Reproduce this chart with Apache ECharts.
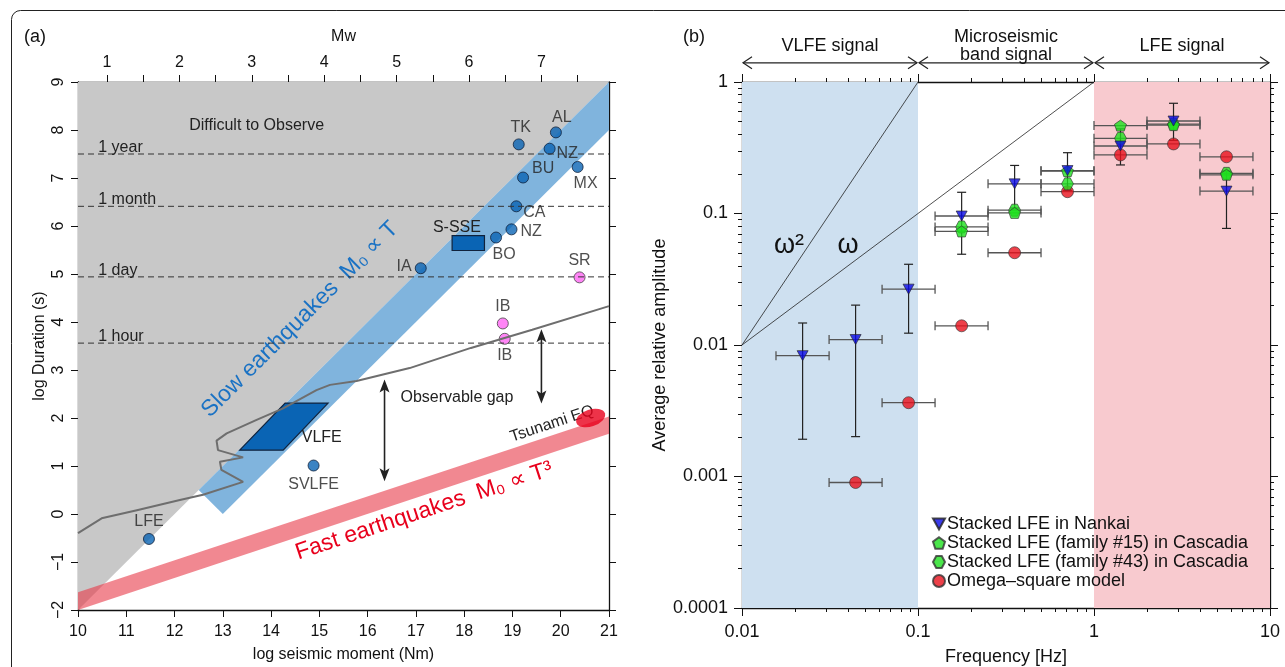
<!DOCTYPE html>
<html>
<head>
<meta charset="utf-8">
<script src="https://cdn.jsdelivr.net/npm/echarts@6/dist/echarts.min.js"></script>
<style>
  html, body { margin: 0; padding: 0; background: #fff; }
  #chart { width: 1285px; height: 667px; }
</style>
</head>
<body>
<div id="chart"></div>
<script>
// ---------- panel (a): scaling of slow / fast earthquakes ----------
const eventNames = ['TK', 'AL', 'NZ', 'BU', 'MX', 'CA', 'NZ', 'BO', 'IA', 'LFE', 'SVLFE'];
const eventMoment = [19.13, 19.90, 19.77, 19.22, 20.35, 19.08, 18.98, 18.66, 17.10, 11.47, 14.88];
const eventDuration = [7.70, 7.95, 7.61, 7.01, 7.23, 6.41, 5.93, 5.76, 5.12, -0.52, 1.01];

const pinkNames = ['SR', 'IB', 'IB'];
const pinkMoment = [20.39, 18.80, 18.84];
const pinkDuration = [4.93, 3.97, 3.65];

// observation limit curve (gray line)
const limitMoment = [10, 10.49, 11.22, 12.11, 12.59, 13.42, 12.97, 12.94, 13.42, 12.90, 12.87, 13.08, 13.70, 14.25, 14.94, 15.22, 15.77, 16.87, 18.14, 19.41, 21];
const limitDuration = [-0.40, -0.09, 0.08, 0.29, 0.40, 0.67, 0.92, 1.09, 1.18, 1.33, 1.53, 1.68, 1.96, 2.20, 2.58, 2.69, 2.77, 3.04, 3.46, 3.84, 4.33];

const timeNames = ['1 year', '1 month', '1 day', '1 hour'];
const timeLog = [7.50, 6.41, 4.94, 3.56];

const grayArea = [[10, 9], [21, 9], [10, -2]];
const slowBand = [[21, 9], [21, 8], [13, 0], [12.5, 0.5]];
const fastBand = [[10, -2], [21, 1.67], [21, 2.03], [10, -1.63]];
const vlfeBox = [[13.35, 1.33], [14.25, 1.33], [15.18, 2.31], [14.29, 2.31]];
const ssseBox = [[17.75, 5.49], [18.42, 5.49], [18.42, 5.80], [17.75, 5.80]];
const tsunami = [20.62, 2.0];

const gapArrowX = [16.35, 19.6];
const gapArrowFrom = [0.68, 2.3];
const gapArrowTo = [2.8, 3.85];

const noteText = ['Difficult to Observe', 'Observable gap', 'VLFE', 'S-SSE'];
const noteX = [13.7, 17.85, 15.05, 17.85];
const noteY = [8.1, 2.42, 1.6, 5.97];

const bandText = ['Slow earthquakes  M\u2080 \u221D T', 'Fast earthquakes  M\u2080 \u221D T\u00B3', 'Tsunami EQ'];
const bandTextX = [14.6, 17.17, 19.82];
const bandTextY = [4.05, 0.06, 1.88];

const mwTicks = [1, 1.5, 2, 2.5, 3, 3.5, 4, 4.5, 5, 5.5, 6, 6.5, 7, 7.5];
const mwLabels = [1, 2, 3, 4, 5, 6, 7];

// ---------- panel (b): average relative amplitude ----------
const freqCenter = [0.0221, 0.0442, 0.0884, 0.177, 0.354, 0.707, 1.414, 2.83, 5.66];
const freqLow = [0.0156, 0.03125, 0.0625, 0.125, 0.25, 0.5, 1, 2, 4];
const freqHigh = [0.03125, 0.0625, 0.125, 0.25, 0.5, 1, 2, 4, 8];
const nankaiAmp = [0.0083, 0.011, 0.0266, 0.0957, 0.168, 0.212, 0.326, 0.505, 0.148];
const nankaiLow = [0.00192, 0.00201, 0.0123, 0.049, 0.11, 0.15, 0.234, 0.36, 0.077];
const nankaiHigh = [0.0147, 0.0201, 0.0411, 0.145, 0.232, 0.29, 0.44, 0.689, 0.21];
const fam15Amp = [null, null, null, 0.073, 0.101, 0.21, 0.466, 0.47, 0.197];
const fam43Amp = [null, null, null, 0.079, 0.106, 0.168, 0.373, 0.478, 0.202];
const omegaAmp = [null, 0.0009, 0.00364, 0.014, 0.0503, 0.1465, 0.279, 0.338, 0.270];

const signalNames = ['VLFE signal', 'Microseismic\nband signal', 'LFE signal'];
const signalFrom = [0.01, 0.1, 1];
const signalTo = [0.1, 1, 10];

const FONT = '"Liberation Sans", Arial, Helvetica, sans-serif';
const chart = echarts.init(document.getElementById('chart'));

function polygonSeries(points, style) {
  return {
    type: 'custom', xAxisIndex: 0, yAxisIndex: 0, silent: true,
    data: [points[0]],
    renderItem: function (params, api) {
      return { type: 'polygon', shape: { points: points.map(function (p) { return api.coord(p); }) }, style: style };
    }
  };
}

const labelPos = {
  0: { position: 'top', offset: [2, 0] },
  1: { position: 'top', offset: [6, 2] },
  2: { position: 'right', offset: [-2, 5] },
  3: { position: 'right', offset: [0, -9] },
  4: { position: 'bottom', offset: [8, 0] },
  5: { position: 'right', offset: [-2, 6] },
  6: { position: 'right', offset: [0, 2] },
  7: { position: 'bottom', offset: [8, 0] },
  8: { position: 'left', offset: [0, -2] },
  9: { position: 'top', offset: [0, 0] },
  10: { position: 'bottom', offset: [0, 2] }
};
const pinkPos = [{ position: 'top', offset: [0, 0] }, { position: 'top', offset: [0, 0] }, { position: 'bottom', offset: [0, 0] }];

const eventData = eventNames.map(function (n, i) {
  return { name: n, value: [eventMoment[i], eventDuration[i]], label: labelPos[i] };
});
const pinkData = pinkNames.map(function (n, i) {
  return { name: n, value: [pinkMoment[i], pinkDuration[i]], label: pinkPos[i] };
});

const timeSeries = timeLog.map(function (t) {
  return {
    type: 'line', xAxisIndex: 0, yAxisIndex: 0, symbol: 'none', silent: true,
    data: [[10, t], [21, t]],
    lineStyle: { color: '#333', width: 1, type: [6, 4] }
  };
});

// minor tick positions for the log axes
const xMinor = [];
[0.01, 0.1, 1].forEach(function (d) { for (let k = 2; k <= 9; k++) xMinor.push(+(d * k).toPrecision(3)); });
const yMinor = [];
[0.0001, 0.001, 0.01, 0.1].forEach(function (d) { for (let k = 2; k <= 9; k++) yMinor.push(+(d * k).toPrecision(3)); });

function markerRows(arr) {
  const out = [];
  arr.forEach(function (v, i) { if (v != null) out.push([freqCenter[i], v]); });
  return out;
}
const xErrRows = [];
[nankaiAmp, fam15Amp, fam43Amp, omegaAmp].forEach(function (arr) {
  arr.forEach(function (v, i) { if (v != null) xErrRows.push([freqCenter[i], v, freqLow[i], freqHigh[i]]); });
});
const yErrRows = nankaiAmp.map(function (v, i) { return [freqCenter[i], v, nankaiLow[i], nankaiHigh[i]]; });

const triDown = 'path://M0,0 L10,0 L5,9 Z';
const pentagon = 'path://M50,0 L97.6,34.5 L79.4,90.5 L20.6,90.5 L2.4,34.5 Z';
const hexagon = 'path://M27,0 L73,0 L100,50 L73,100 L27,100 L0,50 Z';

const axisLineBlack = { show: true, onZero: false, lineStyle: { color: '#111', width: 1.3 } };
const labelA = { color: '#111', fontSize: 16, fontFamily: FONT };
const labelB = { color: '#111', fontSize: 18, fontFamily: FONT };

function logAxis(grid, pos, isMinor, isY, showLabel, extra) {
  const ax = {
    type: 'log', logBase: 10, gridIndex: grid, position: pos,
    min: isY ? 0.0001 : 0.01, max: isY ? 1 : 10,
    axisLine: isMinor ? { show: false, onZero: false } : axisLineBlack,
    splitLine: { show: false },
    axisTick: { show: true, length: isMinor ? 4 : 8, lineStyle: { color: '#111', width: 1 } },
    axisLabel: { show: showLabel, ...labelB, margin: isY ? 14 : 15 }
  };
  if (isMinor) ax.axisTick.customValues = isY ? yMinor : xMinor;
  return Object.assign(ax, extra || {});
}

const option = {
  animation: false,
  backgroundColor: '#fff',
  textStyle: { fontFamily: FONT },
  grid: [
    { left: 78, top: 82, width: 531, height: 528, outerBoundsMode: 'none' },
    { left: 742, top: 82, width: 528, height: 526, outerBoundsMode: 'none' },
    { left: 742, top: 20, width: 528, height: 62, outerBoundsMode: 'none' }
  ],
  graphic: [
    { type: 'rect', shape: { x: 11.5, y: 10.5, width: 1400, height: 800, r: 9 }, style: { fill: 'none', stroke: '#222', lineWidth: 1 }, z: -10, silent: true },
    { type: 'text', left: 24, top: 28, style: { text: '(a)', font: '18px ' + FONT, fill: '#111' } },
    { type: 'text', left: 683, top: 28, style: { text: '(b)', font: '18px ' + FONT, fill: '#111' } }
  ],
  legend: {
    left: 927, top: 510, orient: 'vertical', itemGap: 1, itemWidth: 12, itemHeight: 12,
    selectedMode: false,
    textStyle: { color: '#111', fontSize: 18, fontFamily: FONT, padding: [0, 0, 0, -3] },
    data: ['Stacked LFE in Nankai', 'Stacked LFE (family #15) in Cascadia', 'Stacked LFE (family #43) in Cascadia', 'Omega\u2013square model']
  },
  xAxis: [
    { type: 'value', gridIndex: 0, position: 'bottom', min: 10, max: 21, interval: 1,
      name: 'log seismic moment (Nm)', nameLocation: 'middle', nameGap: 37,
      nameTextStyle: { ...labelA },
      axisLine: axisLineBlack, splitLine: { show: false },
      axisTick: { length: 7, lineStyle: { color: '#111' } }, axisLabel: { ...labelA, margin: 14 } },
    { type: 'value', gridIndex: 0, position: 'top', min: 10, max: 21,
      name: 'Mw', nameLocation: 'middle', nameGap: 37, nameTextStyle: { ...labelA },
      axisLine: axisLineBlack, splitLine: { show: false },
      axisTick: { length: 7, lineStyle: { color: '#111' }, customValues: mwTicks.map(function (m) { return 1.5 * m + 9.1; }) },
      axisLabel: { ...labelA, margin: 11, customValues: mwLabels.map(function (m) { return 1.5 * m + 9.1; }),
        formatter: function (v) { return String(Math.round((v - 9.1) / 1.5)); } } },
    logAxis(1, 'bottom', false, false, true, { name: 'Frequency [Hz]', nameLocation: 'middle', nameGap: 40, nameTextStyle: { ...labelB } }),
    logAxis(1, 'bottom', true, false, false),
    logAxis(1, 'top', false, false, false),
    logAxis(1, 'top', true, false, false),
    { type: 'log', gridIndex: 2, min: 0.01, max: 10, show: false }
  ],
  yAxis: [
    { type: 'value', gridIndex: 0, position: 'left', min: -2, max: 9, interval: 1,
      name: 'log Duration (s)', nameLocation: 'middle', nameGap: 30, nameTextStyle: { ...labelA },
      axisLine: axisLineBlack, splitLine: { show: false },
      axisTick: { length: 7, lineStyle: { color: '#111' } },
      axisLabel: { ...labelA, rotate: 90, margin: 11, formatter: function (v) { return String(v).replace('-', '\u2212'); } } },
    { type: 'value', gridIndex: 0, position: 'right', min: -2, max: 9, interval: 1,
      axisLine: axisLineBlack, splitLine: { show: false },
      axisTick: { length: 7, lineStyle: { color: '#111' } }, axisLabel: { show: false } },
    logAxis(1, 'left', false, true, true, { name: 'Average relative amplitude', nameLocation: 'middle', nameGap: 73, nameTextStyle: { ...labelB } }),
    logAxis(1, 'left', true, true, false),
    logAxis(1, 'right', false, true, false),
    logAxis(1, 'right', true, true, false),
    { type: 'value', gridIndex: 2, min: 0, max: 1, show: false }
  ],
  series: [
    // ----- panel (a) -----
    polygonSeries(grayArea, { fill: '#c8c8c8' }),
    polygonSeries(slowBand, { fill: '#80b4dd' }),
    polygonSeries(fastBand, { fill: 'rgba(232,56,72,0.6)' }),
    ...timeSeries,
    {
      type: 'custom', xAxisIndex: 0, yAxisIndex: 0, silent: true,
      data: timeLog.map(function (t, i) { return [10.42, t, i]; }),
      renderItem: function (params, api) {
        const p = api.coord([api.value(0), api.value(1) + 0.13]);
        return { type: 'text', x: p[0], y: p[1], style: { text: timeNames[api.value(2)], fill: '#222', font: '16px ' + FONT, align: 'left', verticalAlign: 'middle' } };
      }
    },
    {
      type: 'line', xAxisIndex: 0, yAxisIndex: 0, symbol: 'none', silent: true,
      data: limitMoment.map(function (m, i) { return [m, limitDuration[i]]; }),
      lineStyle: { color: '#6e6e6e', width: 2 }
    },
    polygonSeries(vlfeBox, { fill: '#0a64b4', stroke: '#10223c', lineWidth: 1.2 }),
    polygonSeries(ssseBox, { fill: '#0a64b4', stroke: '#10223c', lineWidth: 1.2 }),
    {
      type: 'scatter', xAxisIndex: 0, yAxisIndex: 0, silent: true,
      data: [tsunami], symbol: 'circle', symbolSize: [30, 17], symbolRotate: 18,
      itemStyle: { color: '#e8001c' }
    },
    {
      type: 'custom', xAxisIndex: 0, yAxisIndex: 0, silent: true,
      data: gapArrowX.map(function (x, i) { return [x, gapArrowFrom[i], gapArrowTo[i]]; }),
      renderItem: function (params, api) {
        const a = api.coord([api.value(0), api.value(1)]);
        const b = api.coord([api.value(0), api.value(2)]);
        const hw = 5, hl = 13;
        return { type: 'group', children: [
          { type: 'line', shape: { x1: a[0], y1: a[1] - 4, x2: b[0], y2: b[1] + 4 }, style: { stroke: '#222', lineWidth: 1.6 } },
          { type: 'polygon', shape: { points: [[a[0], a[1]], [a[0] - hw, a[1] - hl], [a[0], a[1] - hl + 3], [a[0] + hw, a[1] - hl]] }, style: { fill: '#222' } },
          { type: 'polygon', shape: { points: [[b[0], b[1]], [b[0] - hw, b[1] + hl], [b[0], b[1] + hl - 3], [b[0] + hw, b[1] + hl]] }, style: { fill: '#222' } }
        ] };
      }
    },
    {
      type: 'scatter', xAxisIndex: 0, yAxisIndex: 0, silent: true,
      data: eventData, symbolSize: 11,
      itemStyle: { color: '#0a64b4', borderColor: '#10223c', borderWidth: 1 },
      label: { show: true, formatter: '{b}', color: '#222', fontSize: 16, fontFamily: FONT, distance: 3 }
    },
    {
      type: 'scatter', xAxisIndex: 0, yAxisIndex: 0, silent: true,
      data: pinkData, symbolSize: 11,
      itemStyle: { color: '#ff66f4', borderColor: '#444', borderWidth: 1 },
      label: { show: true, formatter: '{b}', color: '#222', fontSize: 16, fontFamily: FONT, distance: 3 }
    },
    {
      type: 'custom', xAxisIndex: 0, yAxisIndex: 0, silent: true,
      data: noteX.map(function (x, i) { return [x, noteY[i], i]; }),
      renderItem: function (params, api) {
        const p = api.coord([api.value(0), api.value(1)]);
        return { type: 'text', x: p[0], y: p[1], style: { text: noteText[api.value(2)], fill: '#222', font: '16px ' + FONT, align: 'center', verticalAlign: 'middle' } };
      }
    },
    {
      type: 'custom', xAxisIndex: 0, yAxisIndex: 0, silent: true,
      data: bandTextX.map(function (x, i) { return [x, bandTextY[i], i]; }),
      renderItem: function (params, api) {
        const i = api.value(2);
        const dir = i === 0 ? [slowBand[3], slowBand[0]] : [fastBand[0], fastBand[1]];
        const a = api.coord(dir[0]), b = api.coord(dir[1]);
        const ang = Math.atan2(a[1] - b[1], b[0] - a[0]);
        const p = api.coord([api.value(0), api.value(1)]);
        const colors = ['#1a72c4', '#e8001c', '#222'];
        const sizes = [23, 23, 16];
        return { type: 'text', x: p[0], y: p[1], rotation: ang,
          style: { text: bandText[i], fill: colors[i], font: sizes[i] + 'px ' + FONT, align: 'center', verticalAlign: 'middle' } };
      }
    },

    // ----- panel (b) -----
    {
      type: 'line', xAxisIndex: 2, yAxisIndex: 2, symbol: 'none', silent: true,
      data: [[0.01, 0.01], [0.1, 1]], lineStyle: { color: '#222', width: 0.8 },
      markArea: {
        silent: true,
        data: [
          [{ xAxis: 0.01, itemStyle: { color: '#cee0f0' } }, { xAxis: 0.1 }],
          [{ xAxis: 1, itemStyle: { color: '#f8cacf' } }, { xAxis: 10 }]
        ]
      }
    },
    {
      type: 'line', xAxisIndex: 2, yAxisIndex: 2, symbol: 'none', silent: true,
      data: [[0.01, 0.01], [1, 1]], lineStyle: { color: '#222', width: 0.8 }
    },
    {
      type: 'custom', xAxisIndex: 2, yAxisIndex: 2, silent: true,
      data: [[0.0185, 0.057, 0], [0.04, 0.057, 1]],
      renderItem: function (params, api) {
        const p = api.coord([api.value(0), api.value(1)]);
        return { type: 'text', x: p[0], y: p[1], style: { text: ['\u03C9\u00B2', '\u03C9'][api.value(2)], fill: '#111', font: '27px ' + FONT, align: 'center', verticalAlign: 'middle' } };
      }
    },
    {
      type: 'custom', xAxisIndex: 2, yAxisIndex: 2, silent: true,
      data: xErrRows,
      renderItem: function (params, api) {
        const l = api.coord([api.value(2), api.value(1)]);
        const r = api.coord([api.value(3), api.value(1)]);
        const st = { stroke: '#555', lineWidth: 1.3 };
        return { type: 'group', children: [
          { type: 'line', shape: { x1: l[0], y1: l[1], x2: r[0], y2: r[1] }, style: st },
          { type: 'line', shape: { x1: l[0], y1: l[1] - 4.5, x2: l[0], y2: l[1] + 4.5 }, style: st },
          { type: 'line', shape: { x1: r[0], y1: r[1] - 4.5, x2: r[0], y2: r[1] + 4.5 }, style: st }
        ] };
      }
    },
    {
      type: 'custom', xAxisIndex: 2, yAxisIndex: 2, silent: true,
      data: yErrRows,
      renderItem: function (params, api) {
        const lo = api.coord([api.value(0), api.value(2)]);
        const hi = api.coord([api.value(0), api.value(3)]);
        const st = { stroke: '#222', lineWidth: 1.2 };
        return { type: 'group', children: [
          { type: 'line', shape: { x1: lo[0], y1: lo[1], x2: hi[0], y2: hi[1] }, style: st },
          { type: 'line', shape: { x1: lo[0] - 4.5, y1: lo[1], x2: lo[0] + 4.5, y2: lo[1] }, style: st },
          { type: 'line', shape: { x1: hi[0] - 4.5, y1: hi[1], x2: hi[0] + 4.5, y2: hi[1] }, style: st }
        ] };
      }
    },
    {
      name: 'Omega\u2013square model', type: 'scatter', xAxisIndex: 2, yAxisIndex: 2, silent: true,
      data: markerRows(omegaAmp), symbol: 'circle', symbolSize: 12,
      itemStyle: { color: '#e8101c', borderColor: '#333', borderWidth: 0.8 }
    },
    {
      name: 'Stacked LFE (family #43) in Cascadia', type: 'scatter', xAxisIndex: 2, yAxisIndex: 2, silent: true,
      data: markerRows(fam43Amp), symbol: hexagon, symbolSize: [12, 12],
      itemStyle: { color: '#1ee01e', borderColor: '#333', borderWidth: 0.8 }
    },
    {
      name: 'Stacked LFE (family #15) in Cascadia', type: 'scatter', xAxisIndex: 2, yAxisIndex: 2, silent: true,
      data: markerRows(fam15Amp), symbol: pentagon, symbolSize: [12, 11],
      itemStyle: { color: '#1ee01e', borderColor: '#333', borderWidth: 0.8 }
    },
    {
      name: 'Stacked LFE in Nankai', type: 'scatter', xAxisIndex: 2, yAxisIndex: 2, silent: true,
      data: markerRows(nankaiAmp), symbol: triDown, symbolSize: [11, 10],
      itemStyle: { color: '#0a0ae6', borderColor: '#222', borderWidth: 0.8 }
    },

    // ----- signal band annotations above panel (b) -----
    {
      type: 'custom', xAxisIndex: 6, yAxisIndex: 6, silent: true, clip: false,
      data: signalFrom.map(function (f, i) { return [f, 0.31, signalTo[i]]; }),
      renderItem: function (params, api) {
        const a = api.coord([api.value(0), api.value(1)]);
        const b = api.coord([api.value(2), api.value(1)]);
        const st = { stroke: '#222', lineWidth: 1.2, fill: 'none' };
        return { type: 'group', children: [
          { type: 'line', shape: { x1: a[0] + 1, y1: a[1], x2: b[0] - 1, y2: b[1] }, style: st },
          { type: 'polyline', shape: { points: [[a[0] + 10, a[1] - 6], [a[0] + 1, a[1]], [a[0] + 10, a[1] + 6]] }, style: st },
          { type: 'polyline', shape: { points: [[b[0] - 10, b[1] - 6], [b[0] - 1, b[1]], [b[0] - 10, b[1] + 6]] }, style: st }
        ] };
      }
    },
    {
      type: 'custom', xAxisIndex: 6, yAxisIndex: 6, silent: true, clip: false,
      data: signalFrom.map(function (f, i) { return [Math.sqrt(f * signalTo[i]), 0.58, i]; }),
      renderItem: function (params, api) {
        const p = api.coord([api.value(0), api.value(1)]);
        return { type: 'text', x: p[0], y: p[1], style: { text: signalNames[api.value(2)], fill: '#111', font: '18px ' + FONT, align: 'center', verticalAlign: 'middle', lineHeight: 18 } };
      }
    }
  ]
};

chart.setOption(option);
</script>
</body>
</html>
